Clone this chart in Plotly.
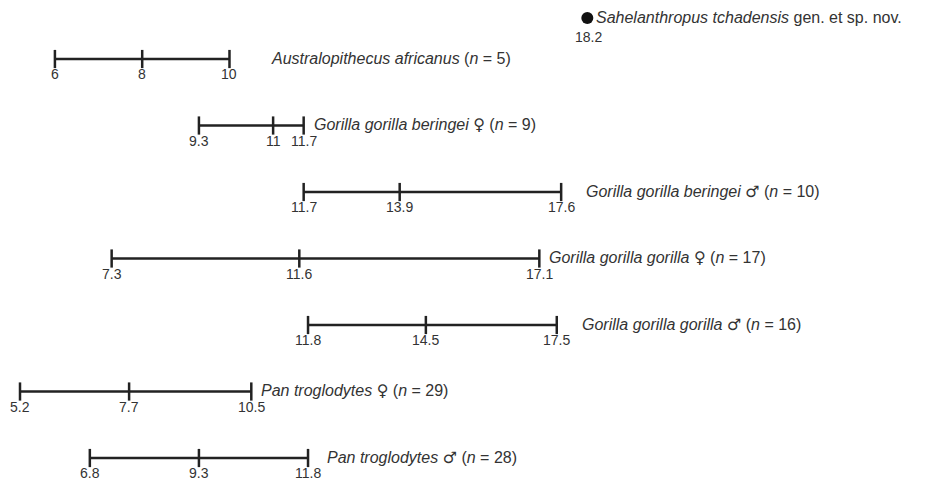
import plotly.graph_objects as go

# ---- data ----
names = [
    "Australopithecus africanus",
    "Gorilla gorilla beringei",
    "Gorilla gorilla beringei",
    "Gorilla gorilla gorilla",
    "Gorilla gorilla gorilla",
    "Pan troglodytes",
    "Pan troglodytes",
]
sexes = ["", "♀", "♂", "♀", "♂", "♀", "♂"]
n_vals = [5, 9, 10, 17, 16, 29, 28]
min_vals = [6, 9.3, 11.7, 7.3, 11.8, 5.2, 6.8]
mean_vals = [8, 11, 13.9, 11.6, 14.5, 7.7, 9.3]
max_vals = [10, 11.7, 17.6, 17.1, 17.5, 10.5, 11.8]

fossil_name = "Sahelanthropus tchadensis"
fossil_suffix = "gen. et sp. nov."
fossil_value = [18.2]

# ---- layout constants ----
rows = list(range(1, len(names) + 1))
fossil_row = 0.383
label_gap = [40, 8, 23, 8, 23, 8, 17]
LINE = "#222222"
TXT = "#333333"
FONT = "Liberation Sans, Arial, sans-serif"
SYM = '<span style="font-family:DejaVu Sans">{}</span>'


def species_label(i):
    s = f"<i>{names[i]}</i>"
    if sexes[i]:
        s += " " + SYM.format(sexes[i])
    s += f" (<i>n</i> = {n_vals[i]})"
    return s


fig = go.Figure()
annotations = []

for i, r in enumerate(rows):
    lo, mu, hi = min_vals[i], mean_vals[i], max_vals[i]
    fig.add_trace(go.Scatter(
        x=[lo, hi], y=[r, r], mode="lines",
        line=dict(color=LINE, width=2.5), hoverinfo="skip", showlegend=False))
    fig.add_trace(go.Scatter(
        x=[lo, mu, hi], y=[r, r, r], mode="markers",
        marker=dict(symbol="line-ns", size=13, line=dict(color=LINE, width=2.5)),
        showlegend=False))
    for v in (lo, mu, hi):
        annotations.append(dict(
            x=v, y=r, xref="x", yref="y", text=f"{v:g}", showarrow=False,
            yshift=-15, font=dict(size=14, color=TXT, family=FONT)))
    annotations.append(dict(
        x=hi, y=r, xref="x", yref="y", text=species_label(i), showarrow=False,
        xanchor="left", xshift=label_gap[i], yshift=1,
        font=dict(size=16, color=TXT, family=FONT)))

fig.add_trace(go.Scatter(
    x=fossil_value, y=[fossil_row], mode="markers",
    marker=dict(symbol="circle", size=12, color="#111111"), showlegend=False))
annotations.append(dict(
    x=fossil_value[0], y=fossil_row, xref="x", yref="y",
    text=f"<i>{fossil_name}</i> {fossil_suffix}",
    showarrow=False, xanchor="left", xshift=7,
    font=dict(size=16, color=TXT, family=FONT)))
annotations.append(dict(
    x=fossil_value[0], y=fossil_row, xref="x", yref="y", text=f"{fossil_value[0]:g}",
    showarrow=False, yshift=-19, xshift=1,
    font=dict(size=14, color=TXT, family=FONT)))

fig.update_layout(
    width=934, height=480,
    margin=dict(l=0, r=0, t=0, b=0),
    paper_bgcolor="white", plot_bgcolor="white",
    xaxis=dict(range=[4.925, 26.327], visible=False, fixedrange=True),
    yaxis=dict(range=[7.451, 0.233], visible=False, fixedrange=True),
    annotations=annotations,
    showlegend=False,
)

fig.write_html("out.html")
